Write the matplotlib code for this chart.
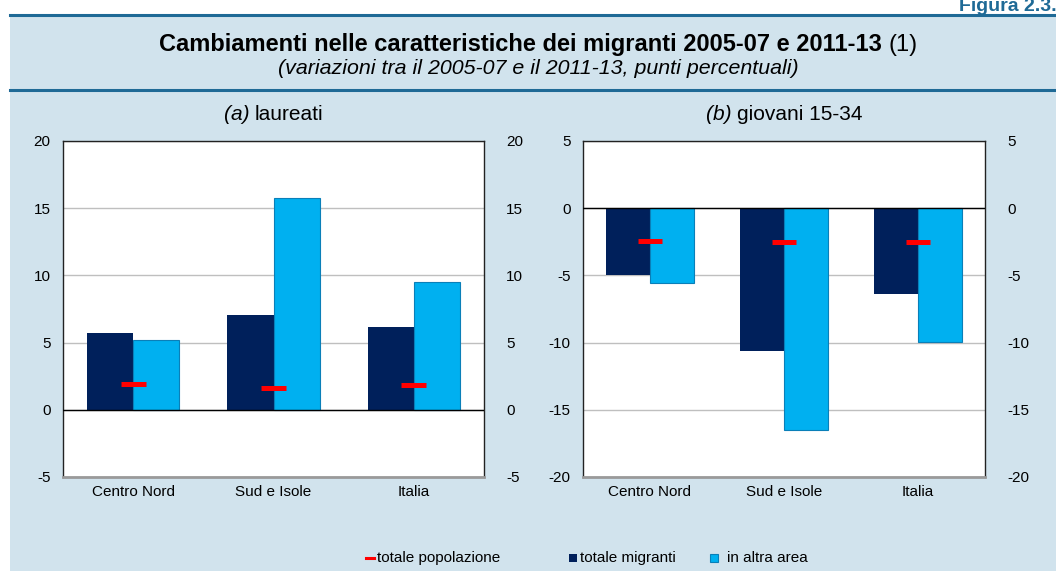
import numpy as np
import matplotlib.pyplot as plt
from matplotlib.patches import Rectangle
from matplotlib.lines import Line2D

plt.rcParams['font.family'] = ['Liberation Sans', 'DejaVu Sans']
plt.rcParams['axes.unicode_minus'] = False

# Dati
categorie = ["Centro Nord", "Sud e Isole", "Italia"]

laureati_migranti = [5.75, 7.04, 6.18]
laureati_altra_area = [5.23, 15.77, 9.52]
laureati_popolazione = [1.93, 1.64, 1.86]

giovani_migranti = [-4.98, -10.66, -6.37]
giovani_altra_area = [-5.55, -16.53, -9.96]
giovani_popolazione = [-2.44, -2.54, -2.54]

col_scuro = "#00205B"
col_chiaro = "#00B0F0"
col_rosso = "#FF0000"
col_sfondo = "#D1E3ED"
col_linea = "#1F6A96"

W, H = 1056, 571
fig = plt.figure(figsize=(W / 100, H / 100), dpi=100)
fig.patch.set_facecolor("white")
renderer = fig.canvas.get_renderer()

# Sfondo azzurro e linee
fig.patches.append(Rectangle((10 / W, 0), 1 - 10 / W, 1 - 15 / H,
                             transform=fig.transFigure, facecolor=col_sfondo,
                             edgecolor="none", zorder=-10))
for yy in [15, 90]:
    fig.add_artist(Line2D([10 / W, 1], [1 - yy / H, 1 - yy / H],
                          transform=fig.transFigure, color=col_linea, lw=2.2))

fig.text(1 + 1 / W, 1 - 11 / H, "Figura 2.3.", ha="right", va="baseline",
         fontsize=14, fontweight="bold", color=col_linea)


def riga(xc, yc, pezzi, size):
    # testo su una riga con stili diversi, centrato in (xc, yc) in pixel
    testi = [fig.text(0, 1 - yc / H, s, ha="left", va="center", fontsize=size, **kw)
             for s, kw in pezzi]
    larg = [t.get_window_extent(renderer).width for t in testi]
    x = xc - sum(larg) / 2
    for t, w in zip(testi, larg):
        t.set_x(x / W)
        x += w


# Titolo
riga(538, 45, [("Cambiamenti nelle caratteristiche dei migranti 2005-07 e 2011-13 ",
                dict(fontweight="bold")), ("(1)", {})], 17)
fig.text(538 / W, 1 - 68 / H, "(variazioni tra il 2005-07 e il 2011-13, punti percentuali)",
         ha="center", va="center", fontsize=15.4, style="italic")


def pannello(px, pw, migranti, altra, popolazione, ylim, lettera, nome):
    ax = fig.add_axes([px / W, 1 - 477 / H, pw / W, 336 / H])
    x = np.arange(len(categorie))
    w = 0.33
    ax.bar(x - w / 2, migranti, w, color=col_scuro, edgecolor="none", zorder=3)
    ax.bar(x + w / 2, altra, w, color=col_chiaro, edgecolor="#0A7FB8",
           linewidth=0.8, zorder=3)
    ax.hlines(popolazione, x - 0.088, x + 0.088, color=col_rosso, lw=3.6, zorder=4)
    ax.axhline(0, color="black", lw=1, zorder=3.5)
    ax.set_xlim(-0.5, 2.5)
    ax.set_ylim(*ylim)
    ticks = np.arange(ylim[0], ylim[1] + 1, 5)
    ax.set_yticks(ticks)
    ax.grid(axis="y", color="#BFBFBF", lw=1, zorder=1)
    ax.set_xticks(x)
    ax.set_xticklabels(categorie, fontsize=11)
    ax.tick_params(axis="x", length=0, pad=6)
    ax.tick_params(axis="y", length=0, pad=9, labelsize=11)
    for s in ["left", "top", "right"]:
        ax.spines[s].set_color("#222222")
        ax.spines[s].set_linewidth(1)
    ax.spines["bottom"].set_color("#9A9A9A")
    ax.spines["bottom"].set_linewidth(2)
    ax2 = ax.twinx()
    ax2.set_ylim(*ylim)
    ax2.set_yticks(ticks)
    ax2.tick_params(axis="y", length=0, pad=16, labelsize=11)
    ax2.spines[:].set_visible(False)
    riga(px + pw / 2, 115, [(f"({lettera}) ", dict(style="italic")), (nome, {})], 15)
    return ax


pannello(63, 421, laureati_migranti, laureati_altra_area, laureati_popolazione,
         (-5, 20), "a", "laureati")
pannello(583, 402, giovani_migranti, giovani_altra_area, giovani_popolazione,
         (-20, 5), "b", "giovani 15-34")

# Legenda
yl = 1 - 558 / H
fig.add_artist(Line2D([366 / W, 374 / W], [yl, yl], transform=fig.transFigure,
                      color=col_rosso, lw=2.2))
fig.text(377 / W, yl, "totale popolazione", va="center", fontsize=11)
fig.patches.append(Rectangle((569 / W, yl - 4 / H), 8 / W, 8 / H, transform=fig.transFigure,
                             facecolor=col_scuro, edgecolor="none"))
fig.text(580 / W, yl, "totale migranti", va="center", fontsize=11)
fig.patches.append(Rectangle((710 / W, yl - 4 / H), 8 / W, 8 / H, transform=fig.transFigure,
                             facecolor=col_chiaro, edgecolor="#0A7FB8", lw=0.8))
fig.text(727 / W, yl, "in altra area", va="center", fontsize=11)

fig.savefig("out.png", dpi=100, facecolor=fig.get_facecolor())
